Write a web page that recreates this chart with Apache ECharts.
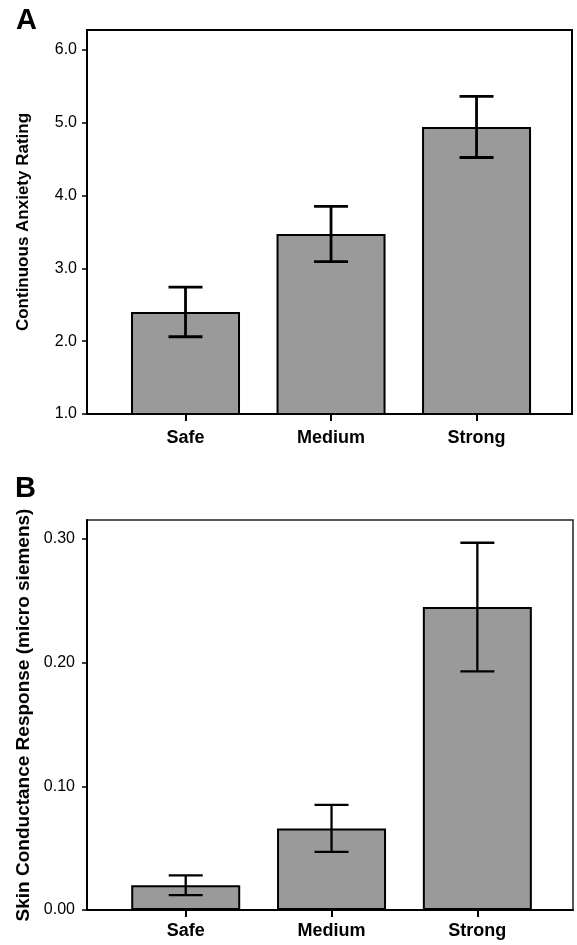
<!DOCTYPE html>
<html>
<head>
<meta charset="utf-8">
<script src="https://cdn.jsdelivr.net/npm/echarts@6/dist/echarts.min.js"></script>
<style>
    html, body { margin: 0; padding: 0; background: #fff; }
    #main { width: 577px; height: 945px; }
</style>
</head>
<body>
<div id="main"></div>
<script>
// categories
var categories = ['Safe', 'Medium', 'Strong'];

// panel A - continuous anxiety rating (mean, sem)
var anxietyMean = [2.40, 3.47, 4.94];
var anxietyErr = [0.34, 0.38, 0.42];
var anxietyTicks = [1, 2, 3, 4, 5, 6];

// panel B - skin conductance response (mean, sem)
var scrMean = [0.020, 0.066, 0.245];
var scrErr = [0.008, 0.019, 0.052];
var scrTicks = [0, 0.1, 0.2, 0.3];

var font = 'Liberation Sans, Arial, Helvetica, sans-serif';
var catPos = [1, 2, 3];

function barData(means) {
    return means.map(function (v, i) { return [catPos[i], v]; });
}

function errData(means, errs) {
    return means.map(function (v, i) { return [catPos[i], v - errs[i], v + errs[i]]; });
}

function errRender(lineW) {
    return function (params, api) {
        var x = api.value(0);
        var lo = api.coord([x, api.value(1)]);
        var hi = api.coord([x, api.value(2)]);
        var half = 17;
        var st = { stroke: '#000', lineWidth: lineW };
        return {
            type: 'group',
            children: [
                { type: 'line', shape: { x1: lo[0], y1: lo[1], x2: hi[0], y2: hi[1] }, style: st },
                { type: 'line', shape: { x1: hi[0] - half, y1: hi[1], x2: hi[0] + half, y2: hi[1] }, style: st },
                { type: 'line', shape: { x1: lo[0] - half, y1: lo[1], x2: lo[0] + half, y2: lo[1] }, style: st }
            ]
        };
    };
}

function xAxisFor(gridIndex, labelMargin) {
    return {
        type: 'value',
        gridIndex: gridIndex,
        min: 0.323,
        max: 3.656,
        splitLine: { show: false },
        axisLine: { show: true, lineStyle: { color: '#000', width: 2 } },
        axisTick: { show: true, customValues: catPos, length: 7, lineStyle: { color: '#000', width: 2 } },
        axisLabel: {
            customValues: catPos,
            margin: labelMargin,
            color: '#000',
            fontFamily: font,
            fontWeight: 'bold',
            fontSize: 18,
            formatter: function (v) { return categories[Math.round(v) - 1] || ''; }
        }
    };
}

var chart = echarts.init(document.getElementById('main'), null, { renderer: 'canvas' });

var option = {
    backgroundColor: '#ffffff',
    animation: false,
    graphic: [
        { type: 'text', left: 16, top: 6, style: { text: 'A', font: 'bold 29px ' + font, fill: '#000' } },
        { type: 'text', left: 15, top: 474, style: { text: 'B', font: 'bold 29px ' + font, fill: '#000' } }
    ],
    grid: [
        { left: 87, top: 30, right: 5, height: 384, show: true, borderColor: '#000', borderWidth: 2 },
        { left: 87, top: 520, right: 4, height: 390, show: true, borderColor: '#222', borderWidth: 1.5 }
    ],
    xAxis: [
        xAxisFor(0, 15),
        xAxisFor(1, 12)
    ],
    yAxis: [
        {
            type: 'value',
            gridIndex: 0,
            min: 1,
            max: 6.27,
            name: 'Continuous Anxiety Rating',
            nameLocation: 'middle',
            nameGap: 55,
            nameTextStyle: { color: '#000', fontFamily: font, fontWeight: 'bold', fontSize: 17 },
            splitLine: { show: false },
            axisLine: { show: true, lineStyle: { color: '#000', width: 2 } },
            axisTick: { show: true, customValues: anxietyTicks, length: 5, lineStyle: { color: '#000', width: 1.5 } },
            axisLabel: {
                customValues: anxietyTicks,
                margin: 10,
                color: '#000',
                fontFamily: font,
                fontSize: 16,
                formatter: function (v) { return v.toFixed(1); }
            }
        },
        {
            type: 'value',
            gridIndex: 1,
            min: 0,
            max: 0.3154,
            name: 'Skin Conductance Response (micro siemens)',
            nameLocation: 'middle',
            nameGap: 54,
            nameTextStyle: { color: '#000', fontFamily: font, fontWeight: 'bold', fontSize: 19 },
            splitLine: { show: false },
            axisLine: { show: true, lineStyle: { color: '#000', width: 2 } },
            axisTick: { show: true, customValues: scrTicks, length: 5, lineStyle: { color: '#000', width: 1.5 } },
            axisLabel: {
                customValues: scrTicks,
                margin: 12,
                color: '#000',
                fontFamily: font,
                fontSize: 16,
                formatter: function (v) { return v.toFixed(2); }
            }
        }
    ],
    series: [
        {
            name: 'Anxiety',
            type: 'bar',
            xAxisIndex: 0,
            yAxisIndex: 0,
            barWidth: 109,
            data: barData(anxietyMean),
            itemStyle: { color: '#9a9a9a', borderColor: '#000', borderWidth: 2 }
        },
        {
            name: 'Anxiety SEM',
            type: 'custom',
            xAxisIndex: 0,
            yAxisIndex: 0,
            z: 5,
            renderItem: errRender(2.8),
            data: errData(anxietyMean, anxietyErr)
        },
        {
            name: 'SCR',
            type: 'bar',
            xAxisIndex: 1,
            yAxisIndex: 1,
            barWidth: 109,
            data: barData(scrMean),
            itemStyle: { color: '#9a9a9a', borderColor: '#000', borderWidth: 2 }
        },
        {
            name: 'SCR SEM',
            type: 'custom',
            xAxisIndex: 1,
            yAxisIndex: 1,
            z: 5,
            renderItem: errRender(2.3),
            data: errData(scrMean, scrErr)
        }
    ]
};

chart.setOption(option);
</script>
</body>
</html>
